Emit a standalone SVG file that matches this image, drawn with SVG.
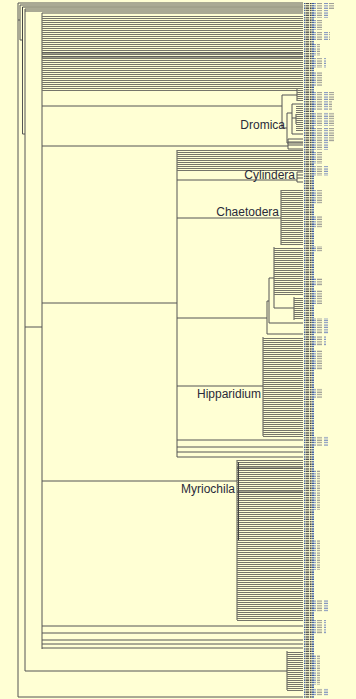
<svg xmlns="http://www.w3.org/2000/svg" width="356" height="699" viewBox="0 0 356 699">
<defs>
<pattern id="h" patternUnits="userSpaceOnUse" width="8" height="2"><rect x="0" y="0" width="8" height="1" fill="#75756a"/></pattern>
<pattern id="lb" patternUnits="userSpaceOnUse" width="10" height="2.4"><rect x="0" y="0.3" width="1.6" height="1.3" fill="#333"/><rect x="2" y="0.3" width="3.2" height="1.3" fill="#2b4fa0"/><rect x="5.6" y="0.3" width="3.6" height="1.3" fill="#4a4a4a"/></pattern>
<pattern id="lx" patternUnits="userSpaceOnUse" width="12" height="2.4"><rect x="0" y="0.5" width="4" height="1" fill="#6a80bb"/><rect x="5" y="0.5" width="5" height="1" fill="#8a8a8a"/></pattern>
<style>
.c{fill:none;stroke:#555;stroke-width:1}
.d{fill:none;stroke:#444;stroke-width:1}
.b{fill:url(#h)}
.lab{font-family:"Liberation Sans",Arial,sans-serif;font-size:12px;fill:#2a2a3a;text-anchor:end}
</style>
</defs>
<rect width="356" height="699" fill="#FFFFD4"/>
<g id="connectors">
<path class="c" d="M18 3V697M18 3H303M18 697H303M18 20H20M20 5V40M20 5H303M20 40H22.5M25 9H303M25 11H303M22.5 134H25M25 9V671M25 327H42M42 13H303M42 13V649"/>
<path class="d" d="M22.5 7V70M22.5 7H303"/>
<path class="c" d="M22.5 70V134"/>
<path class="c" d="M42 106H282M42 146H288M288 139V149M288 139H303M288 142H303M288 145H303M288 149H303"/>
<path class="c" d="M42 303H177M177 150V457M177 440H303M177 447H303M177 452H303M177 457H303"/>
<path class="c" d="M42 481H237M42 626H303M42 633H303M42 640H303M42 644H303M42 648H303M25 671H287"/>
</g>
<g id="top-clade">
<rect class="b" x="42" y="15" width="261" height="76"/>
<path class="d" d="M42 53H303M42 57H303"/>
</g>
<g id="dromica">
<path class="c" d="M282 95V128M282 95H297M297 89V101M282 128H287M287 113V143M287 143H303M287 113H292M292 104V134M292 104H303M292 118H296M296 114V124M292 134H303"/>
<rect class="b" x="297" y="89" width="6" height="13"/>
<rect class="b" x="296" y="106" width="7" height="26"/>
<text class="lab" x="285" y="129">Dromica</text>
</g>
<g id="cylindera">
<rect class="b" x="177" y="150" width="126" height="21"/>
<path class="c" d="M177 180H297M297 172V182M297 172H303M297 175H303M297 178H303M297 182H303"/>
<text class="lab" x="295" y="178.5">Cylindera</text>
</g>
<g id="chaetodera">
<path class="c" d="M177 218H281M281 190V245"/>
<rect class="b" x="281" y="190" width="22" height="56"/>
<text class="lab" x="279" y="216">Chaetodera</text>
</g>
<g id="mid-clade">
<path class="c" d="M177 318H267M267 301V334M267 334H303M267 301H269M269 278V323M269 323H303M269 278H274M274 247V308M274 308H294M294 297V320"/>
<rect class="b" x="274" y="247" width="29" height="48"/>
<rect class="b" x="294" y="297" width="9" height="23"/>
</g>
<g id="hipparidium">
<path class="c" d="M177 386H263M263 337V436"/>
<rect class="b" x="263" y="337" width="40" height="100"/>
<text class="lab" x="261" y="398">Hipparidium</text>
</g>
<g id="myriochila">
<path class="c" d="M237 460V620"/>
<rect class="b" x="237" y="460" width="66" height="161"/>
<path class="d" d="M238.5 462V540M237 468H303M237 492H303"/>
<text class="lab" x="235" y="493">Myriochila</text>
</g>
<g id="basal-clade">
<path class="c" d="M287 651V690"/>
<rect class="b" x="287" y="651" width="16" height="40"/>
</g>
<g id="tip-labels">
<rect x="304" y="3" width="10" height="695" fill="url(#lb)"/>
<rect x="314" y="3" width="20" height="6" fill="url(#lx)"/>
<rect x="314" y="10" width="14" height="8" fill="url(#lx)"/>
<rect x="314" y="20" width="8" height="10" fill="url(#lx)"/>
<rect x="314" y="32" width="16" height="8" fill="url(#lx)"/>
<rect x="314" y="44" width="6" height="12" fill="url(#lx)"/>
<rect x="314" y="58" width="12" height="10" fill="url(#lx)"/>
<rect x="314" y="72" width="8" height="14" fill="url(#lx)"/>
<rect x="314" y="92" width="22" height="8" fill="url(#lx)"/>
<rect x="314" y="100" width="18" height="10" fill="url(#lx)"/>
<rect x="314" y="112" width="20" height="14" fill="url(#lx)"/>
<rect x="314" y="128" width="22" height="14" fill="url(#lx)"/>
<rect x="314" y="142" width="14" height="8" fill="url(#lx)"/>
<rect x="314" y="152" width="10" height="12" fill="url(#lx)"/>
<rect x="314" y="166" width="14" height="10" fill="url(#lx)"/>
<rect x="314" y="190" width="10" height="14" fill="url(#lx)"/>
<rect x="314" y="216" width="8" height="12" fill="url(#lx)"/>
<rect x="314" y="246" width="10" height="6" fill="url(#lx)"/>
<rect x="314" y="278" width="10" height="8" fill="url(#lx)"/>
<rect x="314" y="290" width="8" height="14" fill="url(#lx)"/>
<rect x="314" y="318" width="14" height="16" fill="url(#lx)"/>
<rect x="314" y="336" width="12" height="10" fill="url(#lx)"/>
<rect x="314" y="350" width="8" height="20" fill="url(#lx)"/>
<rect x="314" y="388" width="10" height="10" fill="url(#lx)"/>
<rect x="314" y="436" width="14" height="10" fill="url(#lx)"/>
<rect x="314" y="470" width="6" height="40" fill="url(#lx)"/>
<rect x="314" y="540" width="6" height="30" fill="url(#lx)"/>
<rect x="314" y="600" width="14" height="12" fill="url(#lx)"/>
<rect x="314" y="620" width="12" height="14" fill="url(#lx)"/>
<rect x="314" y="655" width="6" height="30" fill="url(#lx)"/>
<rect x="314" y="688" width="14" height="8" fill="url(#lx)"/>
</g>
</svg>
